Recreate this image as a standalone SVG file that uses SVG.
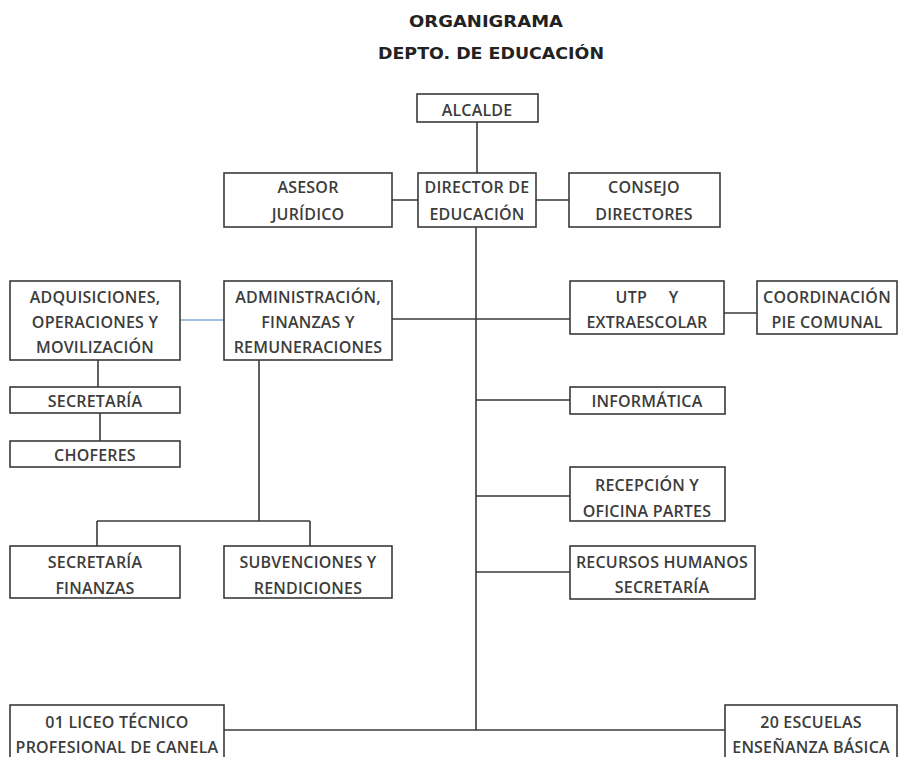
<svg xmlns="http://www.w3.org/2000/svg" width="899" height="757" viewBox="0 0 899 757">
<style>
.box{fill:#fff;stroke:#3a3a3a;stroke-width:1.6}
.t{font-family:"Open Sans","Liberation Sans",sans-serif;font-size:16px;font-weight:600;letter-spacing:0.2px;fill:#3c3c3c;text-anchor:middle}
.title{font-family:"DejaVu Sans",sans-serif;font-weight:bold;font-size:15px;fill:#222;text-anchor:middle}
.c{stroke:#3a3a3a;stroke-width:1.6;fill:none}
.cb{stroke:#4a7fc0;stroke-width:1.2;fill:none}
</style>
<rect width="899" height="757" fill="#fff"/>
<g id="title">
<text class="title" x="486" y="27" textLength="154" lengthAdjust="spacingAndGlyphs">ORGANIGRAMA</text>
<text class="title" x="491" y="59" textLength="226" lengthAdjust="spacingAndGlyphs">DEPTO. DE EDUCACIÓN</text>
</g>
<g id="connectors">
<path class="c" d="M477 122V173"/>
<path class="c" d="M392 200H418M536 200H569"/>
<path class="c" d="M476 227V730"/>
<path class="c" d="M392 319H570"/>
<path class="c" d="M724 313H757"/>
<path class="cb" d="M180 320H224"/>
<path class="c" d="M98 360V387M100 413V441"/>
<path class="c" d="M259 360V521M97 521H310M97 521V546M310 521V546"/>
<path class="c" d="M476 400H570M476 496H570M476 572H570"/>
<path class="c" d="M224 730H725"/>
</g>
<g id="alcalde"><rect class="box" x="417" y="94" width="121" height="28"/><text class="t" x="477" y="116">ALCALDE</text></g>
<g id="director"><rect class="box" x="418" y="173" width="118" height="54"/><text class="t" x="477" y="193">DIRECTOR DE</text><text class="t" x="477" y="220">EDUCACIÓN</text></g>
<g id="asesor"><rect class="box" x="224" y="173" width="168" height="54"/><text class="t" x="308" y="193">ASESOR</text><text class="t" x="308" y="220">JURÍDICO</text></g>
<g id="consejo"><rect class="box" x="569" y="173" width="151" height="54"/><text class="t" x="644" y="193">CONSEJO</text><text class="t" x="644" y="220">DIRECTORES</text></g>
<g id="adquisiciones"><rect class="box" x="10" y="281" width="170" height="79"/><text class="t" x="95" y="303">ADQUISICIONES,</text><text class="t" x="95" y="328">OPERACIONES Y</text><text class="t" x="95" y="353">MOVILIZACIÓN</text></g>
<g id="administracion"><rect class="box" x="224" y="281" width="168" height="79"/><text class="t" x="308" y="303">ADMINISTRACIÓN,</text><text class="t" x="308" y="328">FINANZAS Y</text><text class="t" x="308" y="353">REMUNERACIONES</text></g>
<g id="utp"><rect class="box" x="570" y="281" width="154" height="53"/><text class="t" x="647" y="303" xml:space="preserve">UTP     Y</text><text class="t" x="647" y="328">EXTRAESCOLAR</text></g>
<g id="coordinacion"><rect class="box" x="757" y="281" width="140" height="53"/><text class="t" x="827" y="303">COORDINACIÓN</text><text class="t" x="827" y="328">PIE COMUNAL</text></g>
<g id="secretaria"><rect class="box" x="10" y="387" width="170" height="26"/><text class="t" x="95" y="407">SECRETARÍA</text></g>
<g id="choferes"><rect class="box" x="10" y="441" width="170" height="26"/><text class="t" x="95" y="461">CHOFERES</text></g>
<g id="informatica"><rect class="box" x="570" y="387" width="155" height="27"/><text class="t" x="647" y="407">INFORMÁTICA</text></g>
<g id="recepcion"><rect class="box" x="570" y="467" width="155" height="54"/><text class="t" x="647" y="491">RECEPCIÓN Y</text><text class="t" x="647" y="517">OFICINA PARTES</text></g>
<g id="secretaria-finanzas"><rect class="box" x="10" y="546" width="170" height="52"/><text class="t" x="95" y="568">SECRETARÍA</text><text class="t" x="95" y="594">FINANZAS</text></g>
<g id="subvenciones"><rect class="box" x="224" y="546" width="168" height="52"/><text class="t" x="308" y="568">SUBVENCIONES Y</text><text class="t" x="308" y="594">RENDICIONES</text></g>
<g id="rrhh"><rect class="box" x="570" y="546" width="185" height="53"/><text class="t" x="662" y="568">RECURSOS HUMANOS</text><text class="t" x="662" y="593">SECRETARÍA</text></g>
<g id="liceo"><rect class="box" x="10" y="705" width="214" height="60"/><text class="t" x="117" y="728">01 LICEO TÉCNICO</text><text class="t" x="117" y="753">PROFESIONAL DE CANELA</text></g>
<g id="escuelas"><rect class="box" x="725" y="705" width="172" height="60"/><text class="t" x="811" y="728">20 ESCUELAS</text><text class="t" x="811" y="753">ENSEÑANZA BÁSICA</text></g>
</svg>
